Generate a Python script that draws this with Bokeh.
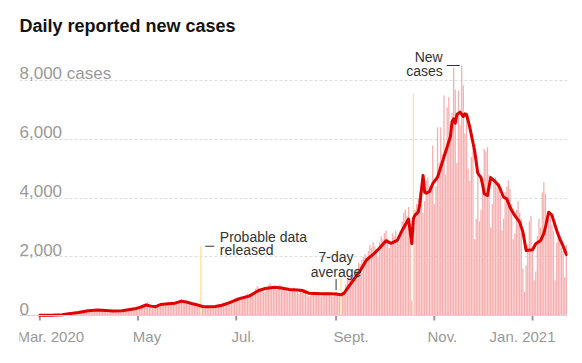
import pandas as pd
from bokeh.plotting import figure
from bokeh.models import Range1d, FixedTicker, Span
from bokeh.core.properties import value
from bokeh.embed import file_html
from bokeh.resources import INLINE

# ---------------- data ----------------
title = "Daily reported new cases"
start_date = "2020-03-01"

daily_cases = [
    0, 0, 0, 0, 0, 2, 1,
    3, 2, 4, 5, 8, 9, 10,
    18, 25, 30, 45, 62, 70, 85,
    80, 95, 110, 120, 135, 150, 160,
    140, 150, 180, 190, 200, 210, 195,
    170, 165, 190, 200, 210, 185, 175,
    150, 140, 160, 170, 175, 150, 145,
    130, 150, 175, 180, 190, 200, 210,
    190, 200, 240, 260, 280, 290, 300,
    250, 300, 380, 420, 460, 300, 280,
    260, 280, 320, 350, 390, 420, 380,
    360, 390, 440, 450, 430, 400, 420,
    380, 400, 500, 540, 560, 520, 480,
    420, 410, 440, 430, 400, 380, 360,
    300, 280, 2360, 320, 300, 310, 280,
    290, 320, 330, 300, 290, 310, 330,
    300, 330, 380, 420, 450, 470, 440,
    430, 480, 560, 600, 620, 580, 560,
    540, 650, 720, 760, 740, 700, 680,
    720, 900, 1000, 950, 900, 850, 820,
    800, 950, 1050, 1100, 1000, 950, 900,
    860, 1000, 1050, 1020, 950, 900, 850,
    800, 950, 900, 880, 950, 820, 800,
    750, 900, 880, 850, 820, 700, 650,
    680, 760, 820, 780, 760, 700, 680,
    650, 720, 800, 780, 760, 700, 680,
    640, 750, 780, 700, 680, 1400, 760,
    820, 1050, 1200, 1300, 1350, 1250, 1400,
    1300, 1600, 1800, 1750, 1900, 2000, 2100,
    1800, 2200, 2400, 2300, 2500, 2350, 2200,
    2000, 2500, 2700, 2600, 2800, 2900, 2600,
    2300, 2400, 2800, 2700, 2900, 2600, 2500,
    2700, 3200, 3500, 3600, 3400, 3700, 2900,
    500, 7554, 3600, 3800, 4000, 4200, 4100,
    3500, 3900, 4600, 4700, 4400, 4300, 5792,
    3800, 4400, 6416, 5200, 6416, 5500, 7496,
    4800, 7098, 7438, 6300, 6900, 8440, 7700,
    5200, 7666, 6500, 8518, 7836, 6200, 6872,
    5000, 4600, 5400, 5700, 2600, 3300, 4900,
    3200, 3600, 4300, 5679, 5600, 5736, 4800,
    3000, 3800, 4600, 4700, 4500, 4300, 4100,
    2900, 3300, 4200, 4400, 4600, 4300, 3800,
    2600, 2800, 3600, 3900, 3500, 3300, 1600,
    800, 1700, 2400, 3200, 3400, 2300, 1200,
    1500, 2700, 3300, 3000, 4200, 4543, 4146,
    2900, 3300, 3400, 3100, 2900, 1200, 2500,
    2800, 2600, 2300, 2200, 1300, 2400,
]

# days on which probable / backlogged data were released (drawn in yellow)
highlight_dates = ["2020-06-09", "2020-09-04", "2020-10-19"]

# 7-day average, read at these day offsets from start_date
avg_day = [0, 7, 14, 18, 24, 30, 36, 41, 45, 51, 55, 59, 63, 66, 69, 72, 75, 80, 84, 88,
           91, 95, 98, 101, 105, 109, 113, 117, 121, 125, 130, 133, 136, 140, 146, 150,
           155, 160, 163, 167, 171, 175, 180, 184, 187, 189, 192, 196, 199, 203, 207,
           211, 215, 218, 222, 225, 229, 231, 232, 233, 235, 236, 238, 239, 240, 242,
           244, 247, 251, 255, 256, 257, 258, 259, 261, 263, 264, 265, 267, 270, 272,
           274, 275, 276, 278, 280, 283, 285, 288, 290, 292, 295, 298, 300, 302, 306,
           308, 311, 313, 314, 316, 318, 321, 323, 325, 327]
avg_value = [5, 8, 25, 60, 100, 160, 185, 175, 150, 165, 200, 228, 290, 360, 320, 300, 375,
             400, 420, 488, 460, 398, 360, 307, 300, 307, 350, 420, 511, 590, 660, 760, 852,
             920, 966, 940, 886, 870, 852, 761, 750, 738, 738, 730, 705, 760, 1000, 1300,
             1533, 1900, 2080, 2300, 2550, 2460, 2560, 2900, 3290, 2450, 3300, 3420, 3520,
             3800, 4770, 4200, 4170, 4225, 4490, 4713, 5400, 6100, 6600, 6700, 6550, 6850,
             6930, 6780, 6870, 6850, 6420, 5620, 4850, 4700, 4450, 4150, 4090, 4700, 4550,
             4430, 4030, 3975, 3690, 3400, 3180, 2850, 2215, 2238, 2443, 2555, 2800, 3000,
             3520, 3420, 2896, 2600, 2360, 2078]

x_tick_dates = ["2020-03-01", "2020-05-01", "2020-07-01", "2020-09-01", "2020-11-01", "2021-01-01"]
x_tick_labels = ["Mar. 2020", "May", "Jul.", "Sept.", "Nov.", "Jan. 2021"]
y_grid_ticks = [2000, 4000, 6000, 8000]
y_label_values = [0, 2000, 4000, 6000, 8000]
y_labels = ["0", "2,000", "4,000", "6,000", "8,000 cases"]

note_new_cases = ["New", "cases"]
note_probable = ["Probable data", "released"]
note_probable_date = "2020-06-09"
note_average = ["7-day", "average"]
note_average_date = "2020-09-01"

# ---------------- layout / style ----------------
FONT = value("Liberation Sans")
GREY = "#999999"
DARK = "#333333"
W, H = 582, 363
BL, BR, BT, BB = 19, 15, 40, 13
frame_w = W - BL - BR
frame_h = H - BT - BB
x_lo_days, x_hi_days = -12.6, 327.7
y_lo, y_hi = -1192, 9370
px_per_day = frame_w / (x_hi_days - x_lo_days)
px_per_case = frame_h / (y_hi - y_lo)
DAY = pd.Timedelta(days=1)

start = pd.Timestamp(start_date)
dates = [start + i * DAY for i in range(len(daily_cases))]
hl = set(pd.to_datetime(highlight_dates))
is_hl = [d in hl for d in dates]
avg_dates = [start + d * DAY for d in avg_day]

p = figure(width=W, height=H, x_axis_type="datetime", output_backend="svg",
           toolbar_location=None, min_border_left=BL, min_border_right=BR,
           min_border_top=BT, min_border_bottom=BB,
           x_range=Range1d(start + x_lo_days * DAY, start + x_hi_days * DAY),
           y_range=Range1d(y_lo, y_hi))
p.outline_line_color = None
p.background_fill_color = "white"
p.border_fill_color = "white"
p.xaxis.visible = False
p.yaxis.visible = False
p.xgrid.visible = False
p.ygrid.ticker = FixedTicker(ticks=y_grid_ticks)
p.ygrid.grid_line_color = "#dddddd"
p.ygrid.grid_line_dash = "3 2"
p.ygrid.grid_line_width = 1

p.title.text = title
p.title.text_font = "Liberation Sans"
p.title.text_font_size = "18px"
p.title.text_font_style = "bold"
p.title.text_color = "#121212"
p.title.align = "left"
p.title.offset = 0
p.title.standoff = 10

# bars
bar_w = 0.8 * 86400000
nd = [d for d, h in zip(dates, is_hl) if not h]
nv = [v for v, h in zip(daily_cases, is_hl) if not h]
hd = [d for d, h in zip(dates, is_hl) if h]
hv = [v for v, h in zip(daily_cases, is_hl) if h]
p.vbar(x=nd, top=nv, bottom=0, width=bar_w, fill_color="#f8aeae", line_color=None)
p.vbar(x=hd, top=hv, bottom=0, width=bar_w, fill_color="#fbe2a4", line_color=None)

# baseline and ticks
p.add_layout(Span(location=0, dimension="width", line_color="#d6d6d6", line_width=1))
tick_x = list(pd.to_datetime(x_tick_dates))
p.segment(x0=tick_x, y0=[0] * len(tick_x), x1=tick_x,
          y1=[-5 / px_per_case] * len(tick_x), line_color="#999999", line_width=2)

# 7-day average line
p.line(x=avg_dates, y=avg_value, line_color="#e00000", line_width=3,
       line_join="round", line_cap="round")

# axis-like labels
p.text(x=tick_x, y=[0] * len(tick_x), text=x_tick_labels, text_font=FONT,
       text_font_size="15px", text_color=GREY, text_align="center",
       text_baseline="alphabetic", x_offset=[11, 9, 7, 15, 8, -10], y_offset=21)
p.text(x=[start + x_lo_days * DAY] * len(y_labels), y=y_label_values, text=y_labels,
       text_font=FONT, text_font_size="17px", text_color=GREY, text_align="left",
       text_baseline="alphabetic", y_offset=-7)

# annotation: New cases (tallest bar)
peak_i = max(range(len(daily_cases)), key=lambda i: daily_cases[i] if not is_hl[i] else -1)
peak_d, peak_v = dates[peak_i], daily_cases[peak_i]
p.segment(x0=[peak_d - 15 / px_per_day * DAY], y0=[peak_v], x1=[peak_d - 2 / px_per_day * DAY],
          y1=[peak_v], line_color=DARK, line_width=1)
p.text(x=[peak_d, peak_d], y=[peak_v, peak_v], text=note_new_cases, text_font=FONT,
       text_font_size="14px", text_color=DARK, text_align="right",
       text_baseline="alphabetic", x_offset=-19, y_offset=[-9, 5])

# annotation: Probable data released
pd_date = pd.Timestamp(note_probable_date)
pd_val = daily_cases[(pd_date - start).days]
p.segment(x0=[pd_date + 4.5 / px_per_day * DAY], y0=[pd_val], x1=[pd_date + 13.5 / px_per_day * DAY],
          y1=[pd_val], line_color=DARK, line_width=1)
p.text(x=[pd_date, pd_date], y=[pd_val, pd_val], text=note_probable, text_font=FONT,
       text_font_size="14px", text_color=DARK, text_align="left",
       text_baseline="alphabetic", x_offset=19, y_offset=[-9, 4])

# annotation: 7-day average
av_date = pd.Timestamp(note_average_date)
av_val = avg_value[avg_day.index((av_date - start).days)]
p.segment(x0=[av_date], y0=[av_val + 4 / px_per_case], x1=[av_date],
          y1=[av_val + 15 / px_per_case], line_color=DARK, line_width=1)
p.text(x=[av_date, av_date], y=[av_val, av_val], text=note_average, text_font=FONT,
       text_font_size="14px", text_color=DARK, text_align="center",
       text_baseline="alphabetic", y_offset=[-37, -22])

open("out.html", "w").write(file_html(p, INLINE))
